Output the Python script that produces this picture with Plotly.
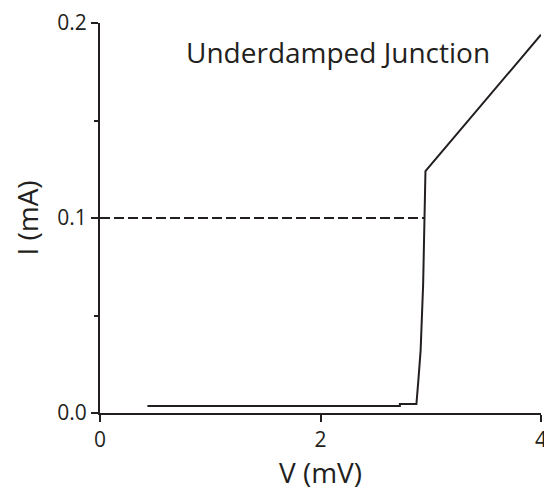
import plotly.graph_objects as go

# IV curve
v_curve = [0.43, 2.72, 2.72, 2.87, 2.888, 2.908, 2.931, 2.946, 2.952, 4.0]
i_curve = [0.0036, 0.0036, 0.0046, 0.0046, 0.017, 0.032, 0.066, 0.100, 0.124, 0.194]

# bias current (dashed)
v_bias = [0.0, 2.946]
i_bias = [0.1, 0.1]

x_ticks = [0, 2, 4]
y_ticks = [0.0, 0.1, 0.2]

ink = "#231f20"
font = "Open Sans, Noto Sans, sans-serif"

fig = go.Figure()
fig.add_trace(go.Scatter(x=v_bias, y=i_bias, mode="lines",
                         line=dict(color=ink, width=2, dash="10px,4px"),
                         showlegend=False))
fig.add_trace(go.Scatter(x=v_curve, y=i_curve, mode="lines",
                         line=dict(color=ink, width=2),
                         showlegend=False))

fig.add_annotation(x=2.16, y=0.185, text="Underdamped Junction", showarrow=False,
                   font=dict(size=28, color=ink, family=font), xanchor="center")

# the page body adds 8px, so the figure is a bit smaller than the window
fig.update_layout(
    width=544, height=485,
    margin=dict(l=92, r=11, t=15, b=80, autoexpand=False),
    plot_bgcolor="white", paper_bgcolor="white",
    font=dict(family=font, color=ink),
    xaxis=dict(range=[0, 4], tickvals=x_ticks, ticks="outside", ticklen=7,
               tickwidth=2, tickcolor=ink, showline=True, linewidth=2, linecolor=ink,
               showgrid=False, zeroline=False, tickfont=dict(size=21),
               ticklabeloverflow="allow", automargin=False,
               title=dict(text="V (mV)", font=dict(size=28), standoff=6)),
    yaxis=dict(range=[0, 0.2], tickvals=y_ticks, tickformat=".1f", ticks="outside",
               ticklen=7, tickwidth=2, tickcolor=ink, showline=True, linewidth=2,
               linecolor=ink, showgrid=False, zeroline=False, tickfont=dict(size=21),
               ticklabeloverflow="allow", automargin=False,
               minor=dict(tickvals=[0.05, 0.15], ticks="outside", ticklen=4,
                          tickwidth=2, tickcolor=ink),
               title=dict(text="I (mA)", font=dict(size=28), standoff=12)),
)

fig.write_html("out.html")
